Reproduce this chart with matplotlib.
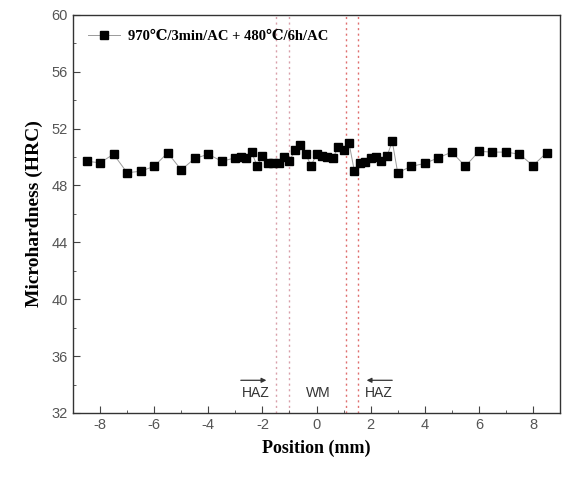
import matplotlib
matplotlib.use("Agg")
import matplotlib.pyplot as plt
from matplotlib.ticker import MultipleLocator

plt.rcParams["axes.unicode_minus"] = False

# hardness profile across the weld
position = [-8.5, -8.0, -7.5, -7.0, -6.5, -6.0, -5.5, -5.0, -4.5, -4.0, -3.5, -3.0,
            -2.8, -2.6, -2.4, -2.2, -2.0, -1.8, -1.6, -1.4, -1.2, -1.0, -0.8, -0.6,
            -0.4, -0.2, 0.0, 0.2, 0.4, 0.6, 0.8, 1.0, 1.2, 1.4, 1.6, 1.8, 2.0, 2.2,
            2.4, 2.6, 2.8, 3.0, 3.5, 4.0, 4.5, 5.0, 5.5, 6.0, 6.5, 7.0, 7.5, 8.0, 8.5]
hardness = [49.7, 49.6, 50.2, 48.9, 49.0, 49.35, 50.3, 49.1, 49.9, 50.2, 49.7, 49.95,
            50.0, 49.95, 50.35, 49.4, 50.05, 49.6, 49.6, 49.55, 50.0, 49.7, 50.5, 50.85,
            50.2, 49.4, 50.2, 50.1, 50.0, 49.9, 50.7, 50.5, 51.0, 49.0, 49.55, 49.65, 49.95, 50.0,
            49.75, 50.05, 51.1, 48.9, 49.35, 49.55, 49.95, 50.35, 49.35, 50.4, 50.35, 50.35, 50.2, 49.4, 50.3]
boundaries_left = [-1.5, -1.0]
boundaries_right = [1.1, 1.55]
series_label = "970\u2103/3min/AC + 480\u2103/6h/AC"

serif = ["Liberation Serif", "DejaVu Serif"]
sans = ["Liberation Sans", "DejaVu Sans"]

fig = plt.figure(figsize=(5.64, 4.8), dpi=100)
ax = fig.add_axes([0.1294, 0.1396, 0.8636, 0.8294])

for xb in boundaries_left:
    ax.axvline(xb, color="#d9a0aa", ls=(0, (1.5, 2.5)), lw=1.0, zorder=1)
for xb in boundaries_right:
    ax.axvline(xb, color="#e07070", ls=(0, (1.5, 2.5)), lw=1.0, zorder=1)

ax.plot(position, hardness, color="#9a9a9a", lw=0.7, marker="s", ms=5.2,
        mfc="black", mec="black", label=series_label, zorder=3)

ax.set_xlim(-9, 9)
ax.set_ylim(32, 60)
ax.xaxis.set_major_locator(MultipleLocator(2))
ax.xaxis.set_minor_locator(MultipleLocator(1))
ax.yaxis.set_major_locator(MultipleLocator(4))
ax.yaxis.set_minor_locator(MultipleLocator(2))
ax.tick_params(which="both", direction="in", top=False, right=False,
               labelsize=10.5, labelcolor="#555555", color="#444444")
ax.tick_params(which="major", length=5)
ax.tick_params(which="minor", length=2.5)
for lab in ax.get_xticklabels() + ax.get_yticklabels():
    lab.set_family(sans)
for sp in ax.spines.values():
    sp.set_color("#333333")
    sp.set_linewidth(1.0)

ax.set_xlabel("Position (mm)", family=serif, fontweight="bold", fontsize=13, labelpad=6)
ax.set_ylabel("Microhardness (HRC)", family=serif, fontweight="bold", fontsize=14, labelpad=6)

leg = ax.legend(loc="upper left", frameon=False,
                prop={"family": serif, "weight": "bold", "size": 10.5},
                handlelength=2.2, handletextpad=0.6, borderaxespad=0.6)

# zone labels
ax.text(-2.25, 33.4, "HAZ", ha="center", va="center", family=sans, fontsize=10, color="#333333")
ax.text(0.05, 33.4, "WM", ha="center", va="center", family=sans, fontsize=10, color="#333333")
ax.text(2.3, 33.4, "HAZ", ha="center", va="center", family=sans, fontsize=10, color="#333333")
ax.annotate("", xy=(-1.75, 34.3), xytext=(-2.9, 34.3),
            arrowprops=dict(arrowstyle="-|>", color="#333333", lw=0.9, mutation_scale=7))
ax.annotate("", xy=(1.75, 34.3), xytext=(2.9, 34.3),
            arrowprops=dict(arrowstyle="-|>", color="#333333", lw=0.9, mutation_scale=7))

fig.savefig("out.png", dpi=100, facecolor="white")
